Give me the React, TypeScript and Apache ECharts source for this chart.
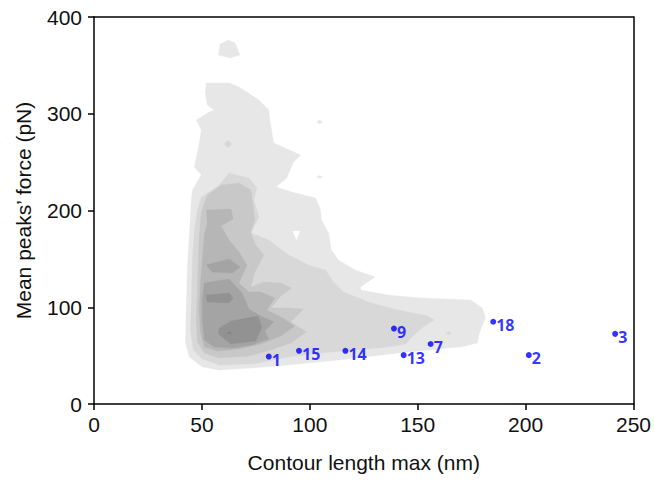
import React, { useEffect, useRef } from 'react';
import * as echarts from 'echarts';

const xTicks = [0, 250, 50];
const yTicks = [0, 400, 100];

// Labelled samples: contour length max (nm) and mean peak force (pN)
const sampleIds = ['1', '15', '14', '13', '9', '7', '18', '2', '3'];
const sampleLength = [81, 95, 116.5, 143.5, 139, 156, 185, 201.5, 241.5];
const sampleForce = [49, 55, 55, 50.5, 78, 62, 85, 50.5, 72.5];

// Filled density contours, lightest level first; each polygon is [nm, pN] vertices
const level1Polygons = [
  [[52.0,331.8],[62.6,331.8],[67.2,327.7],[76.4,314.3],[81.0,303.9],[81.5,293.5],[83.3,269.8],[95.8,257.4],[92.5,250.1],[89.3,233.6],[84.3,224.3],[91.6,219.1],[102.7,212.9],[105.0,200.5],[105.4,190.2],[108.7,176.7],[110.0,159.2],[113.3,148.8],[121.1,138.5],[130.3,131.3],[123.4,120.9],[123.8,117.8],[136.3,112.7],[151.5,109.6],[174.5,107.5],[180.0,99.2],[181.4,88.9],[178.6,73.4],[177.7,63.0],[169.9,58.9],[163.9,57.9],[156.1,55.8],[140.9,52.7],[122.5,47.5],[104.0,43.4],[85.6,39.3],[73.2,37.2],[58.0,35.1],[50.2,38.2],[44.2,48.6],[42.4,63.0],[42.8,107.5],[43.3,141.6],[44.2,176.7],[45.1,210.9],[45.6,221.2],[49.7,236.7],[46.5,245.0],[48.8,269.8],[49.7,283.2],[47.4,293.5],[53.4,301.8],[55.7,303.9],[52.5,309.0],[51.6,321.4]],
  [[57.6,360.7],[58.5,372.1],[62.2,376.2],[65.4,373.1],[67.7,360.7],[63.1,357.6]],
  [[103.1,291.5],[104.5,293.5],[105.9,291.5],[104.5,289.4]],
  [[103.1,234.6],[104.5,236.2],[105.9,234.6],[104.5,233.1]],
];
const emptyPolygons = [
  [[92.1,178.8],[95.3,178.8],[93.9,169.5]],
];
const level2Polygons = [
  [[62.6,238.8],[71.8,233.6],[75.5,223.3],[74.1,210.9],[76.4,193.3],[72.7,176.7],[81.0,169.5],[90.2,154.0],[99.4,143.7],[107.3,138.5],[111.0,126.1],[115.6,115.8],[128.5,104.4],[140.9,97.2],[154.7,91.0],[157.5,86.8],[151.9,78.6],[146.9,68.2],[144.6,62.0],[136.3,58.9],[121.1,55.8],[105.4,52.7],[90.2,48.6],[81.0,44.4],[73.2,41.3],[58.0,40.3],[50.2,46.5],[46.0,55.8],[44.7,76.5],[45.1,107.5],[45.6,148.8],[46.5,179.8],[47.9,200.5],[49.7,214.0],[54.8,221.2],[58.0,226.4]],
  [[60.3,268.7],[62.2,272.9],[64.0,268.7],[62.2,264.6]],
  [[163.0,73.4],[164.4,74.9],[165.8,73.4],[164.4,71.8]],
];
const level3Polygons = [
  [[58.9,226.4],[67.2,228.4],[72.7,221.2],[73.7,205.7],[74.5,190.0],[72.7,177.8],[74.6,165.4],[78.7,154.0],[74.6,136.4],[72.7,120.9],[78.7,126.1],[86.6,125.1],[91.6,119.9],[86.6,111.6],[82.0,99.2],[90.2,99.2],[97.1,98.2],[91.2,84.8],[98.5,74.4],[91.2,63.0],[82.0,55.8],[71.8,49.6],[58.0,47.5],[51.1,52.7],[47.9,64.1],[47.4,86.8],[47.9,117.8],[48.3,148.8],[48.8,174.7],[49.7,198.5],[52.5,216.0]],
];
const level4Polygons = [
  [[52.0,200.5],[63.5,201.6],[64.5,191.2],[58.9,184.0],[62.6,169.5],[67.2,157.1],[70.9,143.7],[67.2,125.1],[71.8,115.8],[77.3,115.8],[83.8,109.6],[80.1,97.2],[87.5,88.9],[93.0,80.6],[86.6,70.3],[77.3,62.0],[67.2,56.8],[57.1,54.8],[51.1,58.9],[49.3,74.4],[48.8,97.2],[49.3,123.0],[50.2,148.8],[51.1,174.7],[52.5,188.1]],
];
const level5Polygons = [
  [[52.0,143.7],[62.6,149.9],[67.7,141.6],[64.0,135.4],[54.8,136.4]],
  [[51.1,125.1],[62.6,129.2],[68.6,114.7],[71.8,98.2],[77.3,91.0],[83.3,84.8],[79.2,75.5],[81.0,67.2],[73.0,61.0],[64.9,57.9],[55.7,58.9],[51.1,66.2],[50.2,86.8],[50.2,107.5]],
];
const level6Polygons = [
  [[52.0,112.7],[62.6,114.7],[64.5,109.6],[62.6,104.4],[52.5,105.4]],
  [[58.0,78.6],[63.5,85.8],[76.0,91.0],[77.8,79.6],[75.0,65.1],[63.5,62.0],[57.6,72.4]],
];
const level7Polygons = [
  [[61.7,73.4],[62.6,74.4],[64.0,73.4],[62.6,72.4]],
];

const levelFills = ['#e7e7e7', '#d8d8d8', '#c8c8c8', '#b6b6b6', '#a4a4a4', '#929292', '#808080'];

const FONT = '"Liberation Sans", Arial, sans-serif';

export default function App() {
  const ref = useRef<HTMLDivElement>(null);

  useEffect(() => {
    if (!ref.current) return;
    const chart = echarts.init(ref.current, null, { renderer: 'svg' });

    const bands: { fill: string; pts: number[][] }[] = [];
    level1Polygons.forEach((p) => bands.push({ fill: levelFills[0], pts: p }));
    emptyPolygons.forEach((p) => bands.push({ fill: '#ffffff', pts: p }));
    [level2Polygons, level3Polygons, level4Polygons, level5Polygons, level6Polygons, level7Polygons].forEach(
      (lvl, i) => lvl.forEach((p) => bands.push({ fill: levelFills[i + 1], pts: p }))
    );

    const axisLineStyle = { color: '#000', width: 1.5 };
    const labelStyle = { fontSize: 21, color: '#111', fontFamily: FONT };

    const option: any = {
      animation: false,
      backgroundColor: '#fff',
      grid: { left: 94, right: 17, top: 17, bottom: 76, containLabel: false },
      xAxis: [
        {
          type: 'value', min: xTicks[0], max: xTicks[1], interval: xTicks[2], position: 'bottom',
          name: 'Contour length max (nm)', nameLocation: 'middle', nameGap: 48,
          nameTextStyle: labelStyle,
          axisLine: { show: true, onZero: false, lineStyle: axisLineStyle },
          axisTick: { show: true, inside: false, length: 6, lineStyle: axisLineStyle },
          axisLabel: { ...labelStyle, margin: 10 },
          splitLine: { show: false },
        },
        {
          type: 'value', min: xTicks[0], max: xTicks[1], position: 'top',
          axisLine: { show: true, onZero: false, lineStyle: axisLineStyle },
          axisTick: { show: false }, axisLabel: { show: false }, splitLine: { show: false },
        },
      ],
      yAxis: [
        {
          type: 'value', min: yTicks[0], max: yTicks[1], interval: yTicks[2], position: 'left',
          name: "Mean peaks’ force (pN)", nameLocation: 'middle', nameGap: 60, nameRotate: 90,
          nameTextStyle: labelStyle,
          axisLine: { show: true, onZero: false, lineStyle: axisLineStyle },
          axisTick: { show: true, inside: false, length: 6, lineStyle: axisLineStyle },
          axisLabel: { ...labelStyle, margin: 12 },
          splitLine: { show: false },
        },
        {
          type: 'value', min: yTicks[0], max: yTicks[1], position: 'right',
          axisLine: { show: true, onZero: false, lineStyle: axisLineStyle },
          axisTick: { show: false }, axisLabel: { show: false }, splitLine: { show: false },
        },
      ],
      series: [
        {
          type: 'custom',
          coordinateSystem: 'cartesian2d',
          xAxisIndex: 0,
          yAxisIndex: 0,
          silent: true,
          clip: true,
          data: bands.map((b) => [b.pts[0][0], b.pts[0][1]]),
          encode: { x: 0, y: 1 },
          renderItem: (params: any, api: any) => {
            const band = bands[params.dataIndex];
            const points = band.pts.map((p) => api.coord(p));
            return {
              type: 'polygon',
              shape: { points },
              style: { fill: band.fill, stroke: band.fill, lineWidth: 0.3 },
            };
          },
          z: 1,
        },
        {
          type: 'scatter',
          xAxisIndex: 0,
          yAxisIndex: 0,
          symbol: 'circle',
          symbolSize: 6,
          itemStyle: { color: '#0000ff' },
          data: sampleIds.map((id, i) => [sampleLength[i], sampleForce[i], id]),
          label: {
            show: true,
            position: 'right',
            distance: 0,
            offset: [0, 3],
            formatter: (p: any) => p.value[2],
            color: '#0000ff',
            fontSize: 16,
            fontWeight: 'bold',
            fontFamily: '"Open Sans", sans-serif',
          },
          z: 3,
        },
      ],
    };

    chart.setOption(option);
    return () => chart.dispose();
  }, []);

  return (
    <div
      ref={ref}
      style={{ position: 'fixed', left: 0, top: 0, width: 654, height: 480, background: '#fff' }}
    />
  );
}
